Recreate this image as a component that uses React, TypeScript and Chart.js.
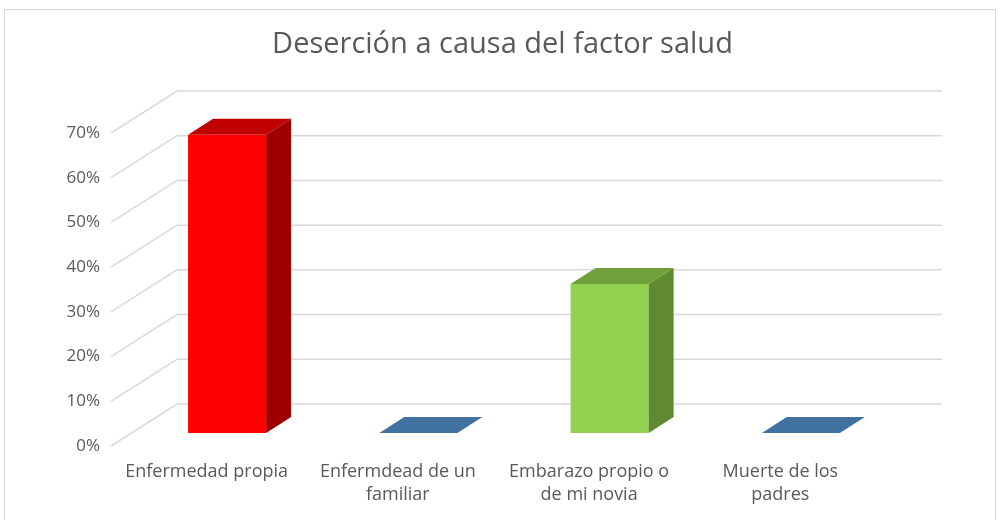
import React, { useEffect, useRef } from "react";
import { Chart, registerables } from "chart.js";

Chart.register(...registerables);

const titleText = "Deserción a causa del factor salud";
const categories: string[][] = [
  ["Enfermedad propia"],
  ["Enfermdead de un", "familiar"],
  ["Embarazo propio o", "de mi novia"],
  ["Muerte de los", "padres"],
];
const values: number[] = [66.67, 0, 33.33, 0];
const frontColors: string[] = ["#FF0000", "#4472A0", "#92D050", "#4472A0"];
const topColors: string[] = ["#C00000", "#41729F", "#70A03A", "#41729F"];
const sideColors: string[] = ["#A00000", "#35608A", "#5F8A2F", "#35608A"];

const FONT = "'Open Sans', 'Liberation Sans', sans-serif";
const TEXT = "#595959";
const GRID = "#D9D9D9";
// perspective offsets
const DEPTH_X = 66;
const DEPTH_Y = -42;
const FACE_FRAC = 0.31;
const BAR_DX = 25;
const BAR_DY = -16;

const threeD = {
  id: "threeD",
  beforeDraw(chart: any) {
    const ctx = chart.ctx;
    ctx.save();
    ctx.fillStyle = "#FFFFFF";
    ctx.fillRect(0, 0, chart.width, chart.height);
    ctx.strokeStyle = "#D9D9D9";
    ctx.lineWidth = 1;
    ctx.strokeRect(4.5, 9.5, 991, 530);
    const ys = chart.scales.y;
    const area = chart.chartArea;
    ctx.strokeStyle = GRID;
    ctx.lineWidth = 1.5;
    ys.ticks.forEach((t: any) => {
      const yf = ys.getPixelForValue(t.value);
      ctx.beginPath();
      ctx.moveTo(area.left, yf);
      ctx.lineTo(area.left + DEPTH_X, yf + DEPTH_Y);
      ctx.lineTo(area.right + DEPTH_X, yf + DEPTH_Y);
      ctx.stroke();
    });
    ctx.restore();
  },
  beforeDatasetDraw(chart: any, args: any) {
    const ctx = chart.ctx;
    const meta = chart.getDatasetMeta(args.index);
    ctx.save();
    meta.data.forEach((el: any, i: number) => {
      const w = el.width;
      const ox = DEPTH_X * FACE_FRAC;
      const oy = DEPTH_Y * FACE_FRAC;
      const x0 = el.x - w / 2 + ox;
      const x1 = el.x + w / 2 + ox;
      const yt = Math.min(el.y, el.base) + oy;
      const yb = el.base + oy;
      if (yb - yt > 0.5) {
        ctx.fillStyle = frontColors[i];
        ctx.fillRect(x0, yt, x1 - x0, yb - yt);
        ctx.fillStyle = sideColors[i];
        ctx.beginPath();
        ctx.moveTo(x1, yt);
        ctx.lineTo(x1 + BAR_DX, yt + BAR_DY);
        ctx.lineTo(x1 + BAR_DX, yb + BAR_DY);
        ctx.lineTo(x1, yb);
        ctx.closePath();
        ctx.fill();
      }
      ctx.fillStyle = topColors[i];
      ctx.beginPath();
      ctx.moveTo(x0, yt);
      ctx.lineTo(x1, yt);
      ctx.lineTo(x1 + BAR_DX, yt + BAR_DY);
      ctx.lineTo(x0 + BAR_DX, yt + BAR_DY);
      ctx.closePath();
      ctx.fill();
    });
    ctx.restore();
    return false;
  },
};

export default function App() {
  const ref = useRef<HTMLCanvasElement | null>(null);
  useEffect(() => {
    if (!ref.current) return;
    const chart = new Chart(ref.current, {
      type: "bar",
      data: {
        labels: categories,
        datasets: [
          {
            data: values,
            backgroundColor: frontColors,
            categoryPercentage: 1,
            barPercentage: 0.408,
          },
        ],
      },
      options: {
        animation: false,
        responsive: false,
        maintainAspectRatio: false,
        layout: { padding: 0 },
        plugins: {
          legend: { display: false },
          tooltip: { enabled: false },
          title: {
            display: true,
            text: titleText,
            color: TEXT,
            font: { family: FONT, size: 29, weight: "normal", lineHeight: 1.2 },
            padding: { top: 27.6, bottom: 70.6 },
          },
        },
        scales: {
          x: {
            grid: { display: false, drawTicks: false },
            border: { display: false },
            ticks: {
              color: TEXT,
              font: { family: FONT, size: 18, lineHeight: 1.28 },
              padding: 14,
              maxRotation: 0,
              autoSkip: false,
            },
            afterFit: (s: any) => {
              s.height = 74;
            },
          },
          y: {
            min: 0,
            max: 70,
            grid: { display: false, drawTicks: false },
            border: { display: false },
            ticks: {
              stepSize: 10,
              color: TEXT,
              font: { family: FONT, size: 17 },
              padding: 11,
              callback: (v: any) => v + "%",
            },
            afterFit: (s: any) => {
              s.width = 111;
            },
          },
          yRight: {
            position: "right",
            display: true,
            grid: { display: false, drawTicks: false },
            border: { display: false },
            ticks: { display: false },
            afterFit: (s: any) => {
              s.width = 129;
            },
          },
        },
      },
      plugins: [threeD],
    });
    return () => chart.destroy();
  }, []);
  return (
    <div style={{ position: "fixed", left: 0, top: 0, width: 1005, height: 520, background: "#fff" }}>
      <canvas ref={ref} width={1005} height={520} style={{ display: "block" }} />
    </div>
  );
}
